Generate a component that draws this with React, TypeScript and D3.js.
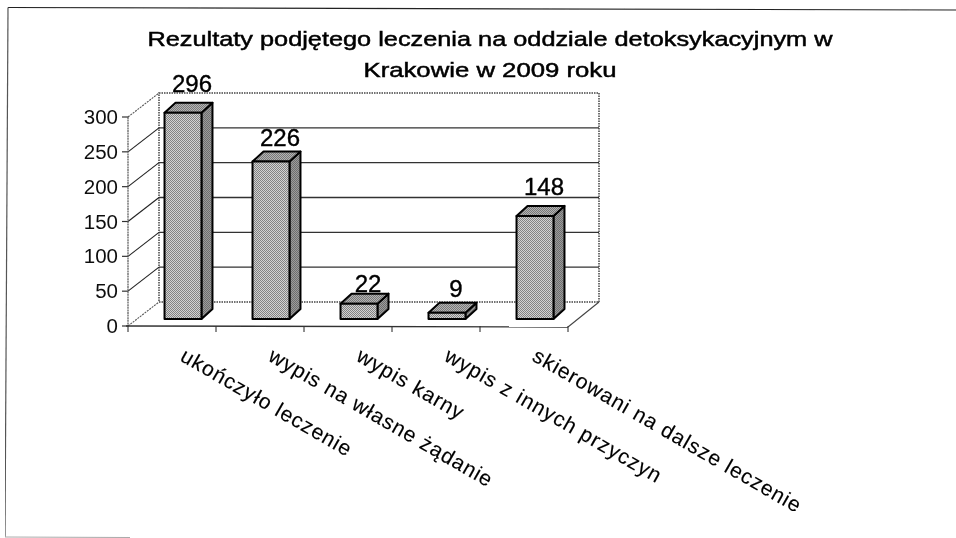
import React from "react";
import * as d3 from "d3";

const categories = [
  "ukończyło leczenie",
  "wypis na własne żądanie",
  "wypis karny",
  "wypis z innych przyczyn",
  "skierowani na dalsze leczenie",
];
const values = [296, 226, 22, 9, 148];
const yTicks = [0, 50, 100, 150, 200, 250, 300];
const titleLines = [
  "Rezultaty podjętego leczenia na oddziale detoksykacyjnym w",
  "Krakowie w 2009 roku",
];

const FONT = "'Liberation Sans', Arial, sans-serif";
const WALL = { dx: 31, dy: -24 };
const BAR = { dx: 11, dy: -10, inset: 7, shift: 11 };
const labelGaps = [11, 6, 2, 6, 11];
const titleWidths = [685, 253];

const y = d3.scaleLinear().domain([0, 300]).range([326, 117]);
const x = d3.scaleBand<string>().domain(categories).range([128, 568]).paddingInner(0.58).paddingOuter(0.29);
const step = x.step();
const left = 128;
const right = 568;
const poly = (pts: [number, number][]) => d3.line()(pts)! + "Z";

function Dither({ id, a, b }: { id: string; a: string; b: string }) {
  return (
    <pattern id={id} width={2} height={2} patternUnits="userSpaceOnUse">
      <rect width={2} height={2} fill={a} />
      <rect width={1} height={1} fill={b} />
      <rect x={1} y={1} width={1} height={1} fill={b} />
    </pattern>
  );
}

export default function App() {
  const bx = (c: string) => x(c)! + BAR.shift;
  const bw = x.bandwidth();
  const base = y(0) - BAR.inset;
  return (
    <svg
      width={956}
      height={538}
      style={{ position: "absolute", left: 0, top: 0, background: "#fff" }}
      fontFamily={FONT}
    >
      <defs>
        <Dither id="front" a="#d2d2d2" b="#828282" />
        <Dither id="side" a="#9c9c9c" b="#6e6e6e" />
        <Dither id="top" a="#b4b4b4" b="#787878" />
        <filter id="scan" x="0" y="0" width="100%" height="100%">
          <feGaussianBlur stdDeviation="0.35" />
        </filter>
      </defs>

      <g filter="url(#scan)">
        {/* scanned frame */}
        <path d="M8 7.5L956 10" stroke="#222" strokeWidth={1.2} fill="none" />
        <path d="M8 7.5L5 537" stroke="#555" strokeWidth={1.2} fill="none" />
        <path d="M5 537L130 537.5" stroke="#aaa" strokeWidth={1} fill="none" />

        {titleLines.map((t, i) => (
          <text
            key={t}
            x={490}
            y={46 + i * 31}
            textAnchor="middle"
            fontSize={21}
            textLength={titleWidths[i]}
            lengthAdjust="spacingAndGlyphs"
            fill="#000"
            stroke="#000"
            strokeWidth={0.5}
          >
            {t}
          </text>
        ))}

        {/* back wall */}
        <path
          d={poly([
            [left + WALL.dx, y(300) + WALL.dy],
            [right + WALL.dx, y(300) + WALL.dy],
            [right + WALL.dx, y(0) + WALL.dy],
            [left + WALL.dx, y(0) + WALL.dy],
          ])}
          fill="none"
          stroke="#444"
          strokeWidth={1.5}
          strokeDasharray="1.5 1"
        />
        {/* grid */}
        {yTicks.filter((t) => t > 0 && t < 300).map((t) => (
          <line key={t} x1={left + WALL.dx} x2={right + WALL.dx} y1={y(t) + WALL.dy} y2={y(t) + WALL.dy} stroke="#333" strokeWidth={1.4} />
        ))}
        {/* left wall + ticks */}
        {yTicks.map((t) => (
          <g key={t}>
            <line x1={left} x2={left + WALL.dx} y1={y(t)} y2={y(t) + WALL.dy} stroke={t === 0 || t === 300 ? "#555" : "#222"} strokeWidth={1.1} strokeDasharray={t === 0 || t === 300 ? "2 1" : undefined} />
            <line x1={left - 6} x2={left} y1={y(t)} y2={y(t)} stroke="#333" strokeWidth={1.2} />
            <text x={left - 10} y={y(t) + 7} textAnchor="end" fontSize={20.5} fill="#111">{t}</text>
          </g>
        ))}
        <line x1={left} x2={left} y1={y(300)} y2={y(0)} stroke="#555" strokeWidth={1.2} strokeDasharray="2 0.6" />
        {/* floor */}
        <line x1={left - 2} x2={right} y1={y(0)} y2={y(0) + 1} stroke="#333" strokeWidth={1.4} />
        <line x1={right} x2={right + WALL.dx} y1={y(0) + 1} y2={y(0) + WALL.dy} stroke="#444" strokeWidth={1.1} />
        {d3.range(categories.length + 1).map((i) => (
          <line key={i} x1={left + i * step} x2={left + i * step} y1={y(0)} y2={y(0) + 6} stroke="#333" strokeWidth={1.1} />
        ))}

        {/* bars */}
        {categories.map((c, i) => {
          const x0 = bx(c);
          const x1 = x0 + bw;
          const h = y(0) - y(values[i]);
          const t = base - h;
          return (
            <g key={c} stroke="#000" strokeWidth={2} strokeLinejoin="round">
              <path d={poly([[x1, t], [x1 + BAR.dx, t + BAR.dy], [x1 + BAR.dx, base + BAR.dy], [x1, base]])} fill="url(#side)" />
              <path d={poly([[x0, t], [x0 + BAR.dx, t + BAR.dy], [x1 + BAR.dx, t + BAR.dy], [x1, t]])} fill="url(#top)" />
              <rect x={x0} y={t} width={bw} height={h} fill="url(#front)" />
              <text
                x={x0 + bw / 2 + BAR.dx / 2 + 3.5}
                y={t + BAR.dy - labelGaps[i]}
                textAnchor="middle"
                fontSize={24}
                fill="#000"
                stroke="#000"
                strokeWidth={0.4}
              >
                {values[i]}
              </text>
            </g>
          );
        })}

        {/* category labels */}
        {categories.map((c) => {
          const cx = x(c)! + bw / 2 + 7;
          return (
            <text
              key={c}
              transform={`translate(${cx},360) rotate(30)`}
              fontSize={21}
              letterSpacing={1}
              fill="#000"
              stroke="#000"
              strokeWidth={0.15}
            >
              {c}
            </text>
          );
        })}
      </g>
    </svg>
  );
}
